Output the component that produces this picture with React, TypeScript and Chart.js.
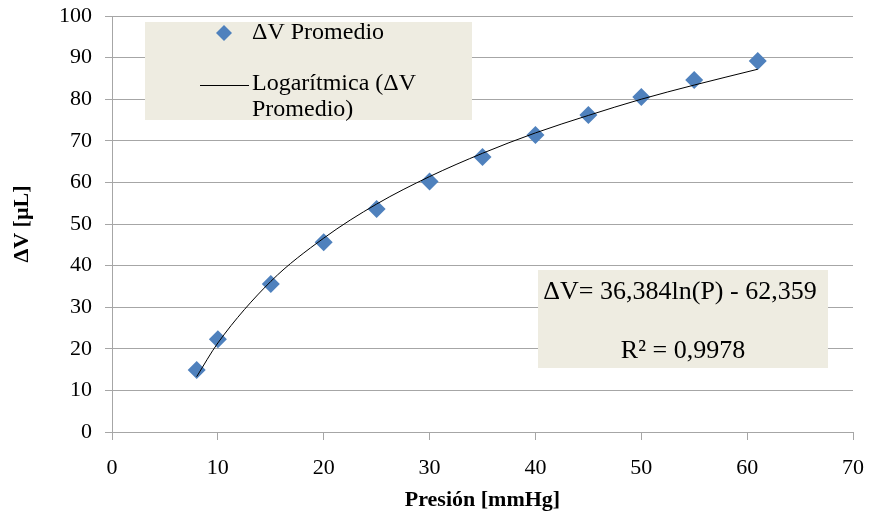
import React, { useEffect, useRef } from "react";
import { Chart, registerables } from "chart.js";

Chart.register(...registerables);

const presion = [8, 10, 15, 20, 25, 30, 35, 40, 45, 50, 55, 61];
const dvPromedio = [14.9, 22.3, 35.6, 45.6, 53.6, 60.2, 66.1, 71.4, 76.2, 80.5, 84.6, 89.2];
const tendencia = [13.3, 21.4, 36.2, 46.6, 54.8, 61.4, 67.0, 71.9, 76.1, 80.0, 83.4, 87.2];
const xTicks = [0, 10, 20, 30, 40, 50, 60, 70];
const yTicks = [0, 10, 20, 30, 40, 50, 60, 70, 80, 90, 100];

const serieLabel = "ΔV Promedio";
const trendLabelLines = ["Logarítmica (ΔV", "Promedio)"];
const ecuacion = "ΔV= 36,384ln(P) - 62,359";
const r2 = "R² = 0,9978";

const FONT = "'Liberation Serif', 'Times New Roman', serif";
const BLUE = "#4F81BD";
const BOXBG = "#EEECE1";
const GRID = "#A6A6A6";

const boxesPlugin = {
  id: "boxes",
  afterDraw(chart: any) {
    const ctx = chart.ctx as CanvasRenderingContext2D;
    const a = chart.chartArea;
    ctx.save();
    // legend box
    const lx = a.left + 33, ly = a.top + 6, lw = 327, lh = 98;
    ctx.fillStyle = BOXBG;
    ctx.fillRect(lx, ly, lw, lh);
    // diamond
    ctx.fillStyle = BLUE;
    const dx = lx + 79, dy = ly + 11, r = 8;
    ctx.beginPath();
    ctx.moveTo(dx, dy - r);
    ctx.lineTo(dx + r, dy);
    ctx.lineTo(dx, dy + r);
    ctx.lineTo(dx - r, dy);
    ctx.closePath();
    ctx.fill();
    ctx.fillStyle = "#000";
    ctx.font = `24px ${FONT}`;
    ctx.textBaseline = "middle";
    ctx.textAlign = "left";
    ctx.fillText(serieLabel, lx + 107, dy);
    ctx.strokeStyle = "#000";
    ctx.lineWidth = 1;
    ctx.beginPath();
    ctx.moveTo(lx + 55, ly + 63.5);
    ctx.lineTo(lx + 104, ly + 63.5);
    ctx.stroke();
    ctx.fillText(trendLabelLines[0], lx + 107, ly + 62);
    ctx.fillText(trendLabelLines[1], lx + 107, ly + 88);
    // equation box
    const ex = a.left + 426, ey = a.top + 254, ew = 290, eh = 98;
    ctx.fillStyle = BOXBG;
    ctx.fillRect(ex, ey, ew, eh);
    ctx.fillStyle = "#000";
    ctx.font = `26px ${FONT}`;
    ctx.textAlign = "center";
    ctx.fillText(ecuacion, ex + ew / 2 - 3, ey + 22);
    ctx.fillText(r2, ex + ew / 2, ey + 81);
    ctx.restore();
  },
};

export default function App() {
  const ref = useRef<HTMLCanvasElement>(null);
  useEffect(() => {
    const chart = new Chart(ref.current!, {
      type: "scatter",
      data: {
        datasets: [
          {
            type: "line",
            label: "Logarítmica (ΔV Promedio)",
            data: presion.map((x, i) => ({ x, y: tendencia[i] })),
            borderColor: "#000",
            borderWidth: 1,
            pointRadius: 0,
            cubicInterpolationMode: "monotone",
            fill: false,
          } as any,
          {
            label: serieLabel,
            data: presion.map((x, i) => ({ x, y: dvPromedio[i] })),
            backgroundColor: BLUE,
            borderColor: BLUE,
            pointStyle: "rectRot",
            pointRadius: 9,
            borderWidth: 0,
          },
        ],
      },
      options: {
        animation: false,
        responsive: false,
        layout: { padding: { top: 16, right: 16, left: 0, bottom: 0 } },
        plugins: { legend: { display: false }, tooltip: { enabled: false } },
        scales: {
          x: {
            type: "linear",
            min: 0,
            max: 70,
            afterBuildTicks: (s: any) => {
              s.ticks = xTicks.map((v) => ({ value: v }));
            },
            afterFit: (s: any) => {
              s.height = 79;
              s.paddingLeft = 0;
              s.paddingRight = 0;
            },
            grid: { drawOnChartArea: false, color: GRID, tickLength: 8 },
            border: { color: GRID, width: 1 },
            ticks: { color: "#000", font: { family: FONT, size: 22 }, padding: 15, maxRotation: 0 },
            title: {
              display: true,
              text: "Presión [mmHg]",
              color: "#000",
              font: { family: FONT, size: 22, weight: "bold" },
              padding: { top: 0, bottom: -3 },
            },
          },
          y: {
            min: 0,
            max: 100,
            afterBuildTicks: (s: any) => {
              s.ticks = yTicks.map((v) => ({ value: v }));
            },
            afterFit: (s: any) => {
              s.width = 112;
              s.paddingTop = 0;
              s.paddingBottom = 0;
            },
            grid: { color: GRID, tickLength: 7 },
            border: { color: GRID, width: 1 },
            ticks: { color: "#000", font: { family: FONT, size: 22 }, padding: 13 },
            title: {
              display: true,
              text: "ΔV [µL]",
              color: "#000",
              font: { family: FONT, size: 22, weight: "bold" },
              padding: { top: 9, bottom: 0 },
            },
          },
        },
      },
      plugins: [boxesPlugin],
    });
    return () => chart.destroy();
  }, []);
  return (
    <div style={{ position: "absolute", left: 0, top: 0, width: 869, height: 511, background: "#fff" }}>
      <canvas ref={ref} width={869} height={511} />
    </div>
  );
}
